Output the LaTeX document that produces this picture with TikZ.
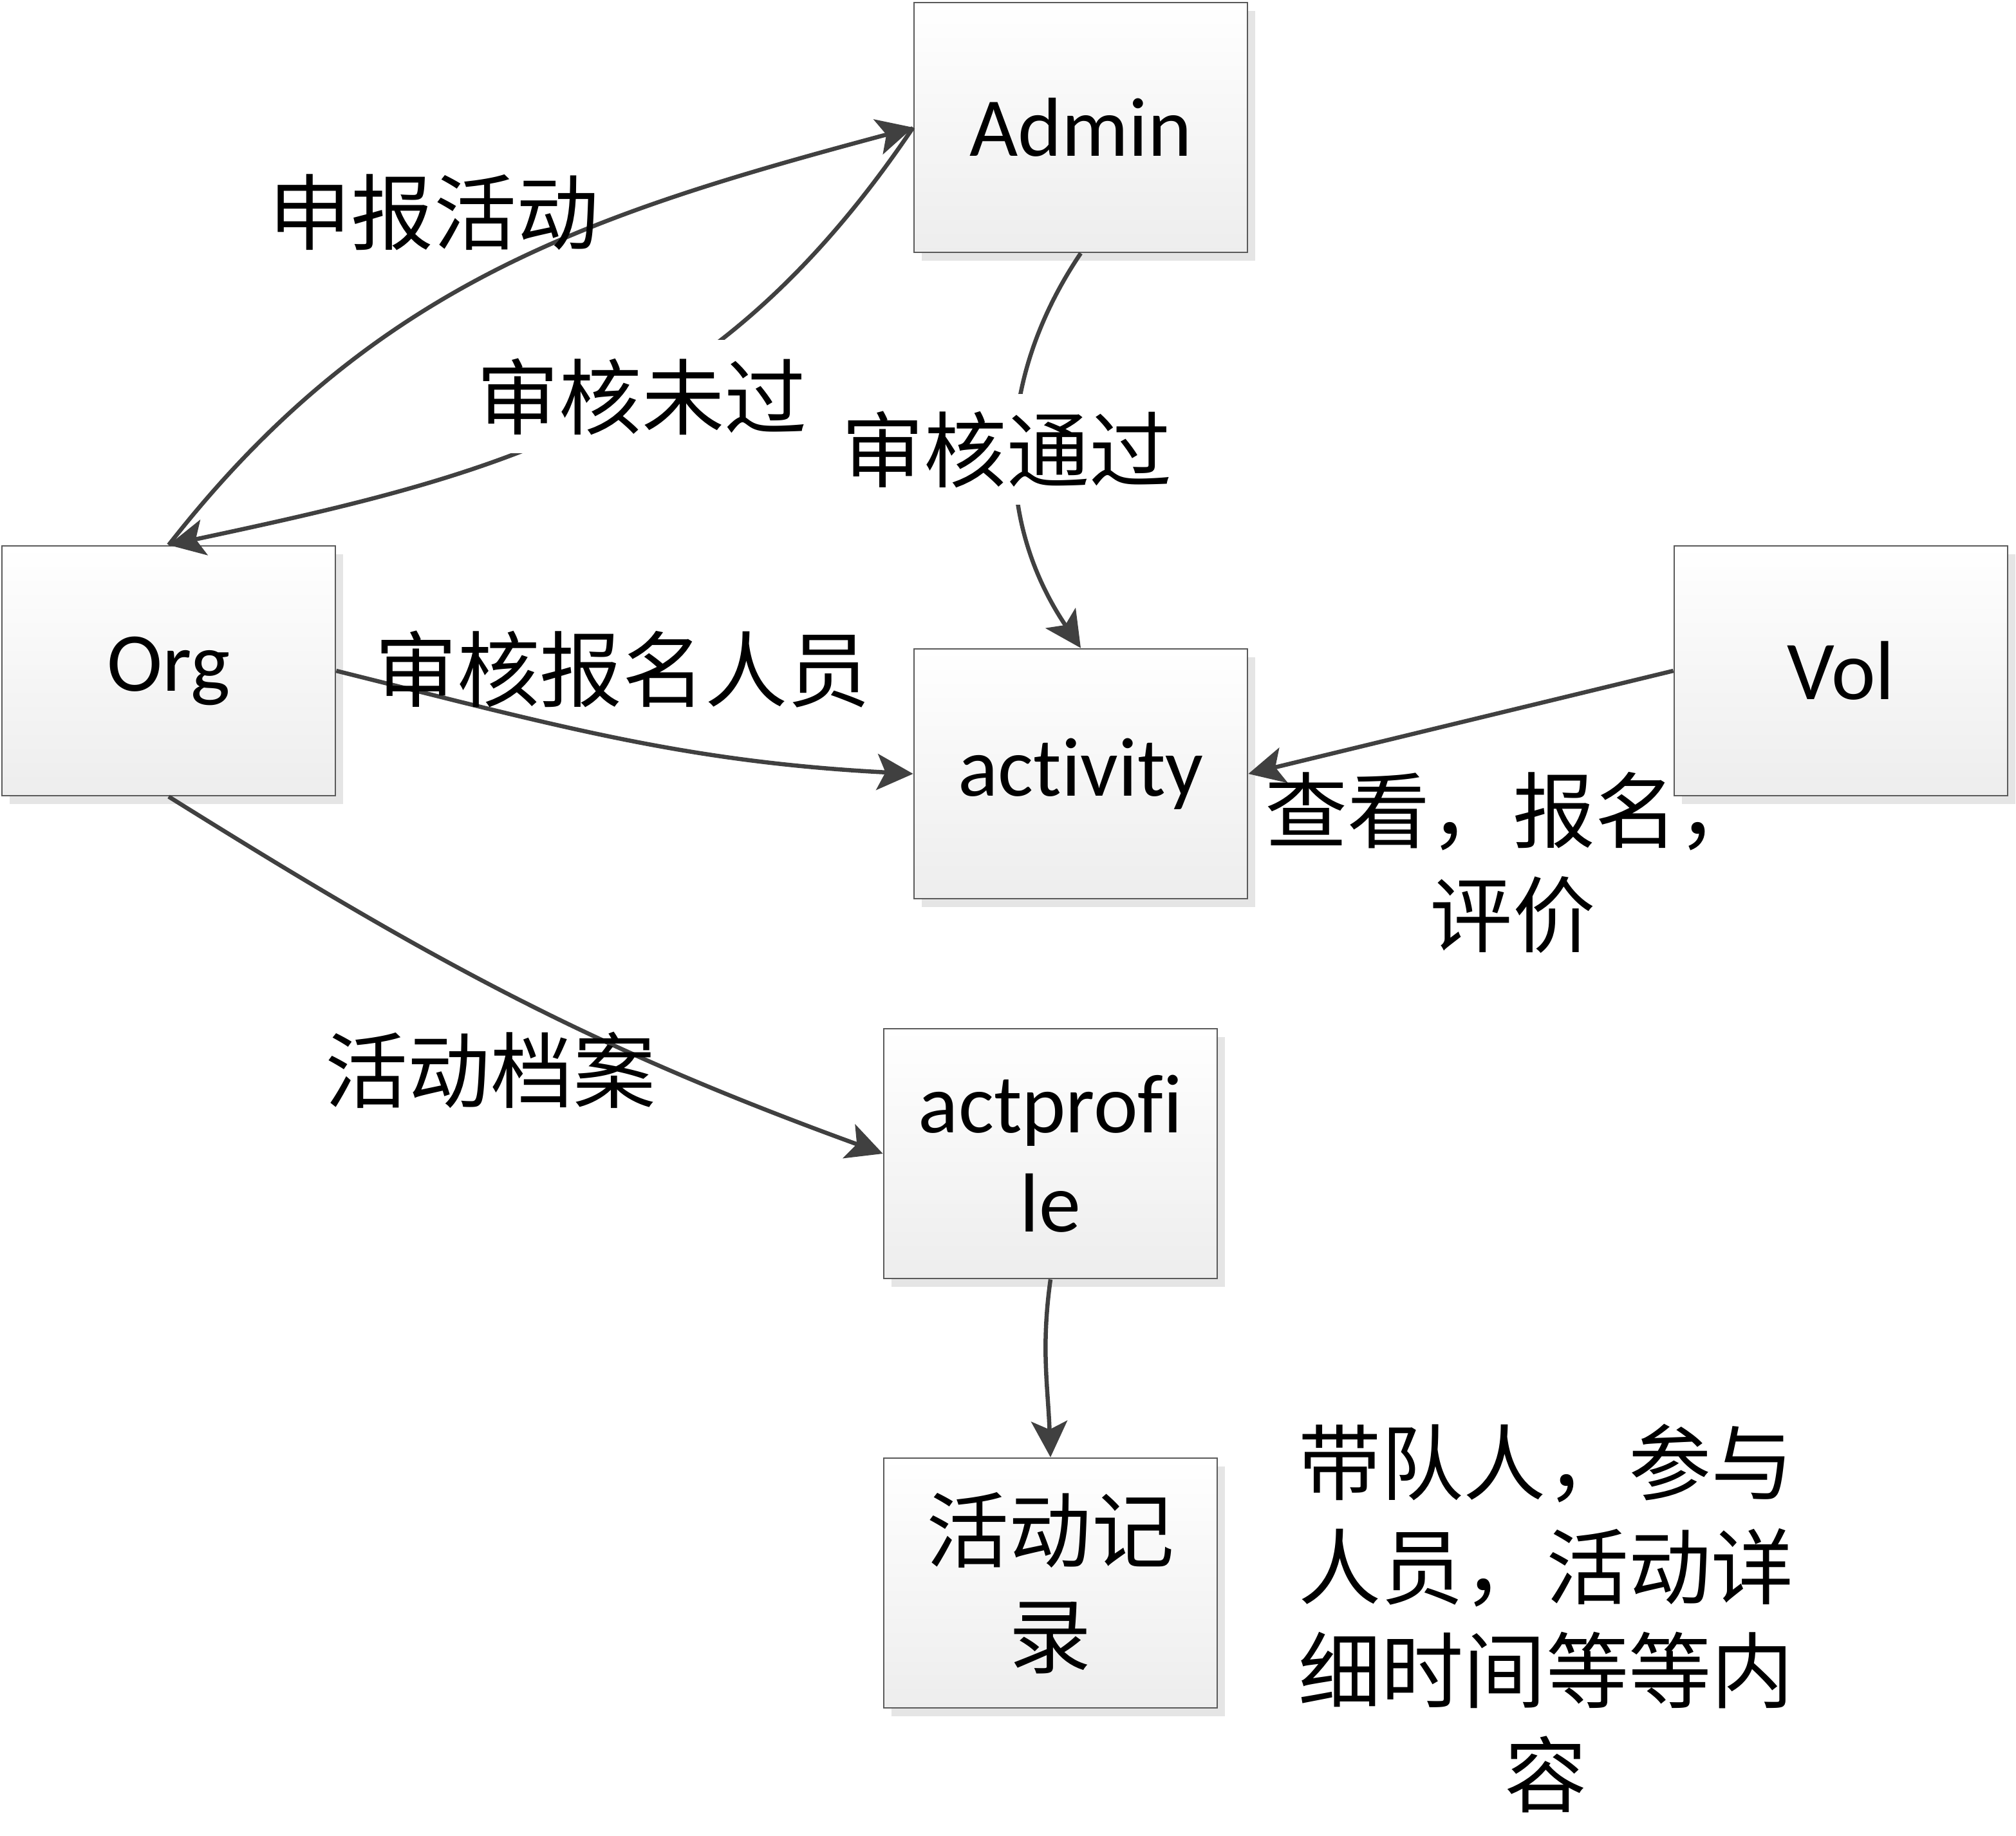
\documentclass[tikz,border=0pt]{standalone}
\usepackage{fontspec}
\setmainfont{Carlito}[Ligatures=NoCommon]
\newfontfamily\cjk{Noto Sans CJK SC}
\usepackage{tikz}
\usetikzlibrary{arrows.meta,shadows}
\definecolor{GrisFlecha}{RGB}{64,64,64}
\definecolor{GrisMarco}{RGB}{90,90,90}

\begin{document}
\begin{tikzpicture}[>={Stealth[length=0.56cm,width=0.56cm,inset=0.13cm]},
  entidad/.style={draw=GrisMarco,line width=0.8pt,top color=white,bottom color=black!7,
    minimum width=5.18cm,minimum height=3.88cm,align=center,inner sep=0pt,
    font=\fontsize{37}{44}\selectfont,
    drop shadow={shadow xshift=0.12cm,shadow yshift=-0.13cm,fill=black!10,opacity=1}},
  flujo/.style={->,line width=1.85pt,GrisFlecha},
  etiqueta/.style={font=\cjk\fontsize{36.5}{46}\selectfont,align=center,inner sep=0pt}]
  \useasboundingbox (0,0) rectangle (31.32,-28.51);
  % cajas
  \node[entidad] (Admin) at (16.79,-1.98) {Admin};
  \node[entidad] (Org) at (2.62,-10.42) {Org};
  \node[entidad] (activity) at (16.79,-12.02) {act\kern0pt ivit\kern0pt y};
  \node[entidad] (Vol) at (28.60,-10.42) {Vol};
  \node[entidad] (actprofile) at (16.32,-17.92) {actprofi\\le};
  \node[entidad,font=\cjk\fontsize{36.5}{46.5}\selectfont] (registro) at (16.32,-24.59) {活动记\\录};
  % flechas
  \draw[flujo] (Org.north) to[out=52,in=195] (Admin.west);
  \draw[flujo] (Admin.west) to[out=236,in=12,looseness=1.05] (Org.north);
  \draw[flujo] (Admin.south) to[out=236,in=124] (activity.north);
  \draw[flujo] (Org.east) to[out=-14,in=177] (activity.west);
  \draw[flujo] (Vol.west) -- (activity.east);
  \draw[flujo] (Org.south) to[out=-32,in=160] (actprofile.west);
  \draw[flujo] (actprofile.south) to[out=262,in=92] (registro.north);
  % textos
  \node[etiqueta] (tagReport) at (6.74,-3.30) {申报活动};
  \node[etiqueta,fill=white,inner sep=0.28cm] (tagReject) at (9.97,-6.16) {审核未过};
  \node[etiqueta,fill=white,inner sep=0.26cm] (tagPass) at (15.64,-6.98) {审核通过};
  \node[etiqueta] (tagCheck) at (9.67,-10.40) {审核报名人员};
  \node[etiqueta] (tagJoin) at (23.50,-13.40) {查看，报名，\\评价};
  \node[etiqueta] (tagFile) at (7.62,-16.62) {活动档案};
  \node[etiqueta] (nota) at (24.02,-25.14) {带队人，参与\\人员，活动详\\细时间等等内\\容};
\end{tikzpicture}
\end{document}
